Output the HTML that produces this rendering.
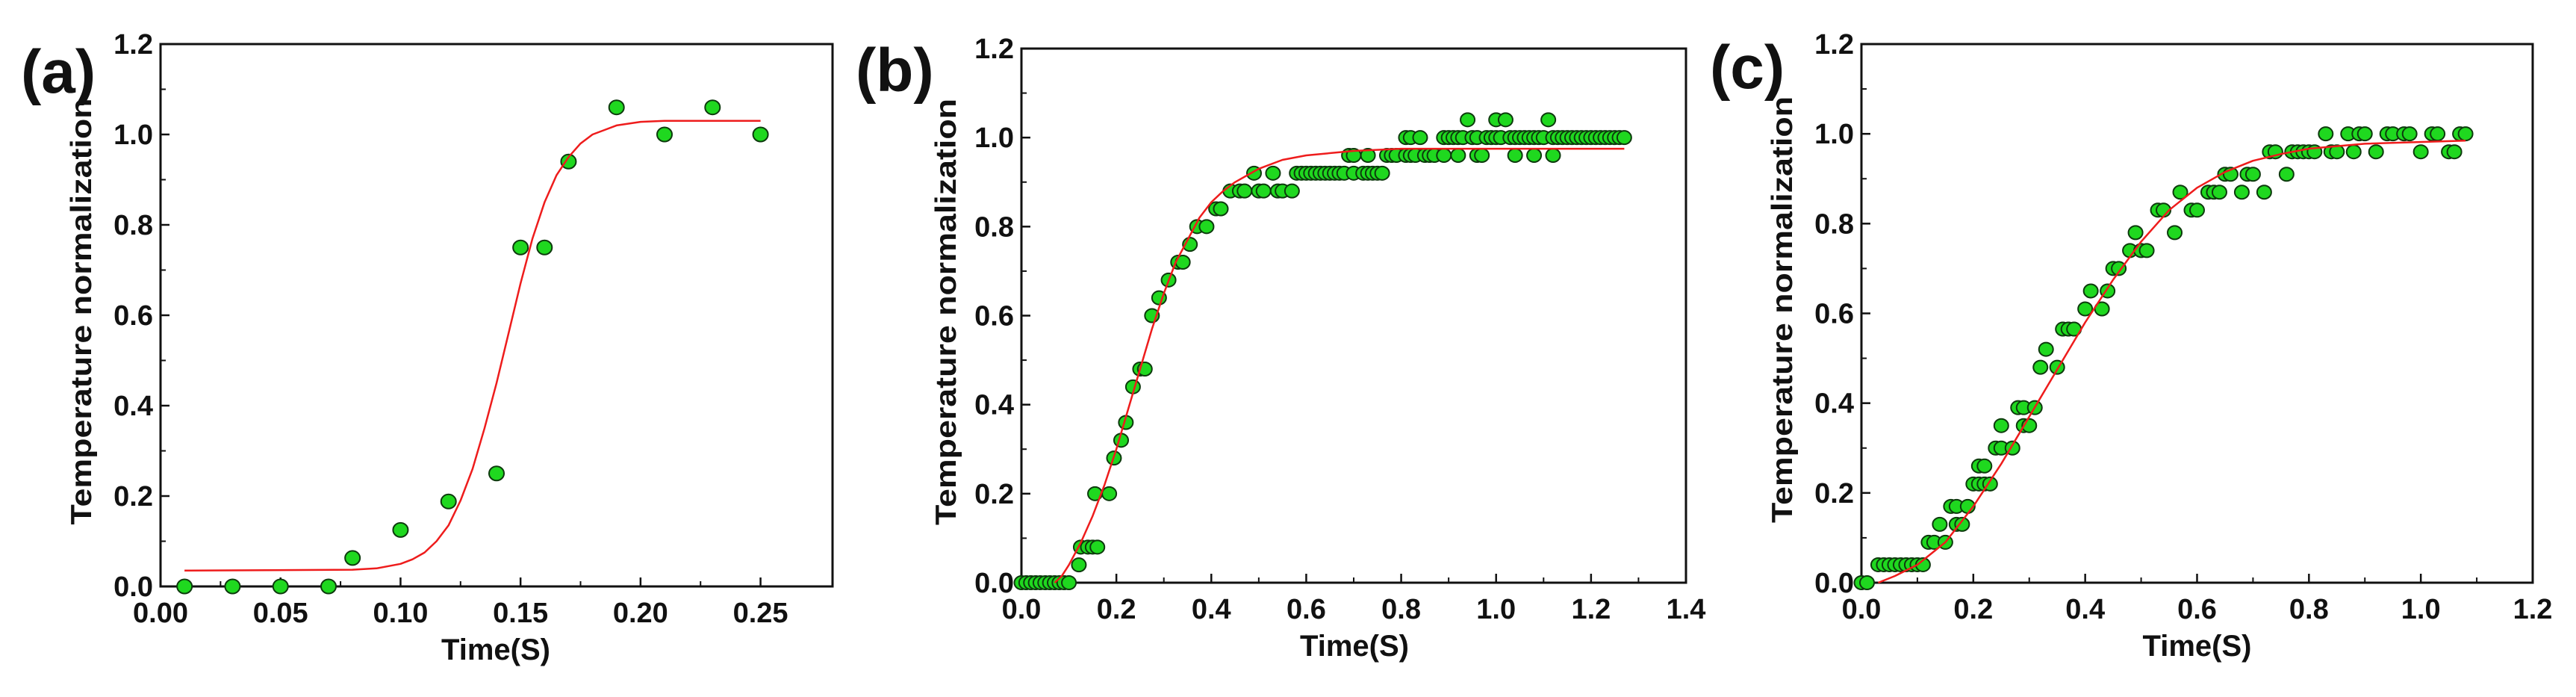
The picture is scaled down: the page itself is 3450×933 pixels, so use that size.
<!DOCTYPE html>
<html><head><meta charset="utf-8"><style>
html,body{margin:0;padding:0;background:#fff;}
svg{display:block;font-family:"Liberation Sans",Arial,sans-serif;font-weight:bold;}
</style></head>
<body>
<svg id="fig" width="3450" height="933" viewBox="0 0 3450 933" xmlns="http://www.w3.org/2000/svg"></svg>
<script>
// ---- Panel (a) data ----
const aX = [0.01,0.03,0.05,0.07,0.08,0.10,0.12,0.14,0.15,0.16,0.17,0.19,0.21,0.23,0.25];
const aY = [0,0,0,0,0.063,0.125,0.188,0.25,0.75,0.75,0.94,1.06,1.0,1.06,1.0];
const aFitX = [0.01,0.08,0.09,0.10,0.105,0.11,0.115,0.12,0.125,0.13,0.135,0.14,0.145,0.15,0.155,0.16,0.165,0.17,0.175,0.18,0.185,0.19,0.20,0.21,0.25];
const aFitY = [0.035,0.037,0.04,0.05,0.06,0.075,0.10,0.135,0.19,0.26,0.35,0.45,0.56,0.67,0.77,0.85,0.91,0.95,0.98,1.0,1.01,1.02,1.028,1.03,1.03];
const aXTicks = [0,0.05,0.10,0.15,0.20,0.25];
const aXLabels = ["0.00","0.05","0.10","0.15","0.20","0.25"];
// ---- Panel (b) data ----
const bX = [0,0.01,0.02,0.03,0.04,0.05,0.06,0.07,0.08,0.09,0.10,0.121,0.125,0.14,0.15,0.16,0.155,0.185,0.195,0.21,0.22,0.235,0.25,0.26,0.275,0.29,0.31,0.33,0.34,0.355,0.37,0.39,0.41,0.42,
0.44,0.46,0.47,0.50,0.51,0.54,0.55,0.57,
0.49,0.53,0.58,0.59,0.60,0.61,0.62,0.63,0.64,0.65,0.66,0.67,0.68,0.70,0.72,0.73,0.74,0.75,0.76,
0.69,0.70,0.73,0.77,0.78,0.79,0.81,0.82,0.83,0.85,0.86,0.87,0.89,
0.81,0.82,0.84,0.89,0.90,0.91,0.92,0.93,0.95,0.96,0.98,0.99,1.00,1.01,1.03,1.04,1.05,1.06,1.07,1.08,1.09,1.10,1.12,1.13,1.14,1.15,1.16,1.17,1.18,1.19,1.20,1.21,1.22,1.23,1.24,1.25,1.26,1.27,
0.94,1.0,1.02,1.11,
0.92,0.96,0.97,1.04,1.08,1.12];
const bY = [0,0,0,0,0,0,0,0,0,0,0,0.04,0.08,0.08,0.08,0.08,0.2,0.2,0.28,0.32,0.36,0.44,0.48,0.48,0.6,0.64,0.68,0.72,0.72,0.76,0.8,0.8,0.84,0.84,
0.88,0.88,0.88,0.88,0.88,0.88,0.88,0.88,
0.92,0.92,0.92,0.92,0.92,0.92,0.92,0.92,0.92,0.92,0.92,0.92,0.92,0.92,0.92,0.92,0.92,0.92,0.92,
0.96,0.96,0.96,0.96,0.96,0.96,0.96,0.96,0.96,0.96,0.96,0.96,0.96,
1,1,1,1,1,1,1,1,1,1,1,1,1,1,1,1,1,1,1,1,1,1,1,1,1,1,1,1,1,1,1,1,1,1,1,1,1,1,
1.04,1.04,1.04,1.04,
0.96,0.96,0.96,0.96,0.96,0.96];
const bFitX = [0.07,0.085,0.10,0.125,0.15,0.175,0.20,0.225,0.25,0.275,0.30,0.325,0.35,0.375,0.40,0.425,0.45,0.50,0.55,0.60,0.70,0.80,1.27];
const bFitY = [0,0.015,0.04,0.09,0.15,0.22,0.30,0.39,0.48,0.57,0.65,0.72,0.77,0.82,0.855,0.88,0.90,0.93,0.95,0.96,0.97,0.975,0.975];
const bXTicks = [0,0.2,0.4,0.6,0.8,1.0,1.2,1.4];
const bXLabels = ["0.0","0.2","0.4","0.6","0.8","1.0","1.2","1.4"];
// ---- Panel (c) data ----
const cX = [0,0.01,0.03,0.04,0.05,0.06,0.07,0.08,0.09,0.10,0.11,0.12,0.13,0.15,0.14,0.17,0.18,0.16,0.17,0.19,0.20,0.21,0.22,0.23,0.21,0.22,0.24,0.25,0.27,0.25,0.29,0.30,0.28,0.29,0.31,0.32,0.35,0.33,0.36,0.37,0.38,0.40,0.43,0.41,0.44,0.45,0.46,0.48,0.50,0.51,0.49,0.56,0.53,0.54,0.59,0.60,0.57,0.62,0.63,0.64,0.68,0.72,0.65,0.66,0.69,0.70,0.76,
0.73,0.74,0.77,0.78,0.79,0.80,0.81,0.84,0.85,0.88,0.92,1.0,1.05,1.06,
0.83,0.87,0.89,0.90,0.94,0.95,0.97,0.98,1.02,1.03,1.07,1.08];
const cY = [0,0,0.04,0.04,0.04,0.04,0.04,0.04,0.04,0.04,0.04,0.09,0.09,0.09,0.13,0.13,0.13,0.17,0.17,0.17,0.22,0.22,0.22,0.22,0.26,0.26,0.30,0.30,0.30,0.35,0.35,0.35,0.39,0.39,0.39,0.48,0.48,0.52,0.565,0.565,0.565,0.61,0.61,0.65,0.65,0.70,0.70,0.74,0.74,0.74,0.78,0.78,0.83,0.83,0.83,0.83,0.87,0.87,0.87,0.87,0.87,0.87,0.91,0.91,0.91,0.91,0.91,
0.96,0.96,0.96,0.96,0.96,0.96,0.96,0.96,0.96,0.96,0.96,0.96,0.96,0.96,
1,1,1,1,1,1,1,1,1,1,1,1];
const cFitX = [0.03,0.06,0.10,0.15,0.20,0.25,0.30,0.35,0.40,0.45,0.50,0.55,0.60,0.65,0.70,0.75,0.80,0.90,1.08];
const cFitY = [0,0.015,0.04,0.09,0.17,0.265,0.37,0.475,0.58,0.675,0.76,0.83,0.88,0.915,0.94,0.955,0.967,0.978,0.985];
const cXTicks = [0,0.2,0.4,0.6,0.8,1.0,1.2];
const cXLabels = ["0.0","0.2","0.4","0.6","0.8","1.0","1.2"];
const yTicks = [0,0.2,0.4,0.6,0.8,1.0,1.2];
const yLabels = ["0.0","0.2","0.4","0.6","0.8","1.0","1.2"];

const NS = "http://www.w3.org/2000/svg";
const fig = document.getElementById('fig');
function mk(tag, attrs, parent){const e=document.createElementNS(NS,tag);for(const k in attrs)e.setAttribute(k,attrs[k]);(parent||fig).appendChild(e);return e;}

function panel(p){
  const g = mk('g',{});
  
  
  const sx = v => p.L + (v - p.x0)/(p.x1 - p.x0)*(p.R - p.L);
  const sy = v => p.B - v/1.2*(p.B - p.T);
  const fr = mk('rect',{x:p.L,y:p.T,width:p.R-p.L,height:p.B-p.T,fill:'none',stroke:'#111','stroke-width':3},g);
  
  
  for(let i=0;i<p.xt.length;i++){
    const x=sx(p.xt[i]);
    mk('line',{x1:x,y1:p.B,x2:x,y2:p.B-12,stroke:'#111','stroke-width':2.5},g);
    const t=mk('text',{x:x,y:p.B+48,'text-anchor':'middle','font-size':38,fill:'#111'},g);
    t.textContent=p.xl[i];
    
    
    if(i<p.xt.length-1){
      const xm=sx((p.xt[i]+p.xt[i+1])/2);
      mk('line',{x1:xm,y1:p.B,x2:xm,y2:p.B-7,stroke:'#111','stroke-width':2},g);
    }
  }
  for(let i=0;i<yTicks.length;i++){
    const y=sy(yTicks[i]);
    mk('line',{x1:p.L,y1:y,x2:p.L+12,y2:y,stroke:'#111','stroke-width':2.5},g);
    const t=mk('text',{x:p.L-10,y:y+13,'text-anchor':'end','font-size':38,fill:'#111'},g);
    t.textContent=yLabels[i];
    
    
    if(i<yTicks.length-1){
      const ym=sy(yTicks[i]+0.1);
      mk('line',{x1:p.L,y1:ym,x2:p.L+7,y2:ym,stroke:'#111','stroke-width':2},g);
    }
  }
  const yt=mk('text',{x:0,y:0,'text-anchor':'middle','font-size':39,fill:'#111',textLength:571,lengthAdjust:'spacingAndGlyphs',transform:`translate(${p.ytx},${(p.T+p.B)/2-5}) rotate(-90)`},g);
  yt.textContent='Temperature normalization';
  
  
  const xt=mk('text',{x:(p.L+p.R)/2+p.xtOff,y:p.B+98,'text-anchor':'middle','font-size':40,fill:'#111'},g);
  xt.textContent='Time(S)';
  
  
  const lb=mk('text',{x:p.lx,y:p.ly,'font-size':82,fill:'#111'},g);
  lb.textContent='('+p.id+')';
  
  
  for(let i=0;i<p.px.length;i++){
    const c=mk('ellipse',{cx:sx(p.px[i]),cy:sy(p.py[i]),rx:p.rx,ry:p.ry,fill:'#1fd81f',stroke:'#0d3a0d','stroke-width':2},g);
    
    
  }
  let d='';
  for(let i=0;i<p.fx.length;i++) d+=(i?'L':'M')+sx(p.fx[i]).toFixed(1)+','+sy(p.fy[i]).toFixed(1);
  const path=mk('path',{d:d,fill:'none',stroke:'#ee1c1c','stroke-width':2.5,'stroke-linejoin':'round'},g);
  
  
}
panel({id:'a',L:215,R:1115,T:59,B:785,x0:0,x1:0.28,xt:aXTicks,xl:aXLabels,px:aX,py:aY,fx:aFitX,fy:aFitY,ytx:122,xtOff:-1,lx:28,ly:124,rx:10,ry:9.5});
panel({id:'b',L:1368,R:2258,T:65,B:780,x0:0,x1:1.4,xt:bXTicks,xl:bXLabels,px:bX,py:bY,fx:bFitX,fy:bFitY,ytx:1280,xtOff:1,lx:1146,ly:122,rx:9.5,ry:9});
panel({id:'c',L:2493,R:3392,T:59,B:780,x0:0,x1:1.2,xt:cXTicks,xl:cXLabels,px:cX,py:cY,fx:cFitX,fy:cFitY,ytx:2400,xtOff:0,lx:2290,ly:118,rx:9.5,ry:9});
</script>
</body></html>
